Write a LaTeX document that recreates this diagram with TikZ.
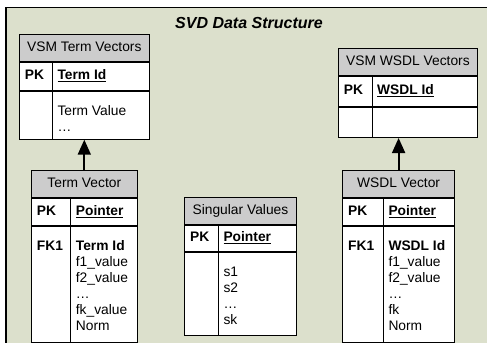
\documentclass[tikz,border=0pt]{standalone}
\usepackage{fontspec}
\setmainfont{Liberation Sans}
\usepackage{tikz}
\usetikzlibrary{arrows.meta}

\definecolor{framegreen}{RGB}{220,224,204}
\definecolor{headgray}{RGB}{204,204,204}

\begin{document}
\begin{tikzpicture}[x=1pt,y=-1pt,
  hdr/.style={draw,fill=headgray,line width=0.9pt,anchor=north west,minimum height=27pt,
    inner sep=0pt,text height=9.8pt,text depth=2.9pt,font=\fontsize{13.8}{16}\selectfont},
  cell/.style={draw,fill=white,line width=0.9pt,anchor=north west,inner sep=0pt},
  keytxt/.style={anchor=west,inner sep=0pt,text height=9.8pt,text depth=2.9pt,
    font=\fontsize{13.8}{16}\selectfont\bfseries},
  fieldtxt/.style={anchor=north west,inner sep=0pt,align=left,
    font=\fontsize{13.8}{16}\selectfont},
  link/.style={line width=1.8pt,-{Triangle[length=15pt,width=13pt]}}]
  \useasboundingbox (0,0) rectangle (487,343);

  % frame
  \fill[framegreen] (6,7.5) rectangle (487,343);
  \draw[line width=1.2pt] (487,7.5) -- (6,7.5) -- (6,343);
  \node[at={(249,22.7)},font=\fontsize{16}{19}\selectfont\bfseries\itshape] (title) {SVD Data Structure};

  % tables: name/x/y/width/divider/pk row/body/title/key
  \foreach \tname/\tx/\ty/\tw/\td/\thp/\thb/\ttitle/\tkey in {
    vsmterm/18.7/34/130.3/33.6/28.3/47.7/{VSM Term Vectors}/{Term Id},
    vsmwsdl/337.7/47.7/139.6/34.3/30.6/30/{VSM WSDL Vectors}/{WSDL Id},
    termvec/30.7/170/106.3/40/27.3/116/{Term Vector}/Pointer,
    singval/184/196.7/112/34.3/26.7/82.7/{Singular Values}/Pointer,
    wsdlvec/342/170/112.3/41.3/27.3/115.5/{WSDL Vector}/Pointer}{
    \node[hdr,minimum width=\tw pt] (\tname) at (\tx,\ty) {\ttitle};
    \node[cell,minimum width=\tw pt,minimum height=\thp pt] (\tname-pk) at (\tname.south west) {};
    \node[cell,minimum width=\tw pt,minimum height=\thb pt] (\tname-body) at (\tname-pk.south west) {};
    \draw[line width=0.9pt] ([xshift=\td pt]\tname-pk.north west) -- ([xshift=\td pt]\tname-body.south west);
    \node[keytxt] (\tname-pkt) at ([xshift=6pt]\tname-pk.west) {PK};
    \node[keytxt] (\tname-idt) at ([xshift=\td pt+5pt]\tname-pk.west) {\underline{\tkey}};
  }

  % fields
  \node[fieldtxt] (vsmterm-flt) at ([shift={(38.6pt,-13pt)}]vsmterm-body.north west) {\strut Term Value\\\textellipsis};
  \node[fieldtxt,font=\fontsize{13.8}{16}\selectfont\bfseries] (termvec-fkt) at ([shift={(6pt,-13pt)}]termvec-body.north west) {\strut FK1};
  \node[fieldtxt] (termvec-flt) at ([shift={(45pt,-13pt)}]termvec-body.north west)
    {\strut\textbf{Term Id}\\f1\_value\\f2\_value\\\textellipsis\\fk\_value\\Norm};
  \node[fieldtxt] (singval-flt) at ([shift={(39.3pt,-13pt)}]singval-body.north west) {\strut s1\\s2\\\textellipsis\\sk};
  \node[fieldtxt,font=\fontsize{13.8}{16}\selectfont\bfseries] (wsdlvec-fkt) at ([shift={(6pt,-13pt)}]wsdlvec-body.north west) {\strut FK1};
  \node[fieldtxt] (wsdlvec-flt) at ([shift={(46.3pt,-13pt)}]wsdlvec-body.north west)
    {\strut\textbf{WSDL Id}\\f1\_value\\f2\_value\\\textellipsis\\fk\\Norm};

  % arrows
  \draw[link] (termvec.north) -- (vsmterm-body.south);
  \draw[link] (wsdlvec.north) -- (wsdlvec.north |- vsmwsdl-body.south);
\end{tikzpicture}
\end{document}
